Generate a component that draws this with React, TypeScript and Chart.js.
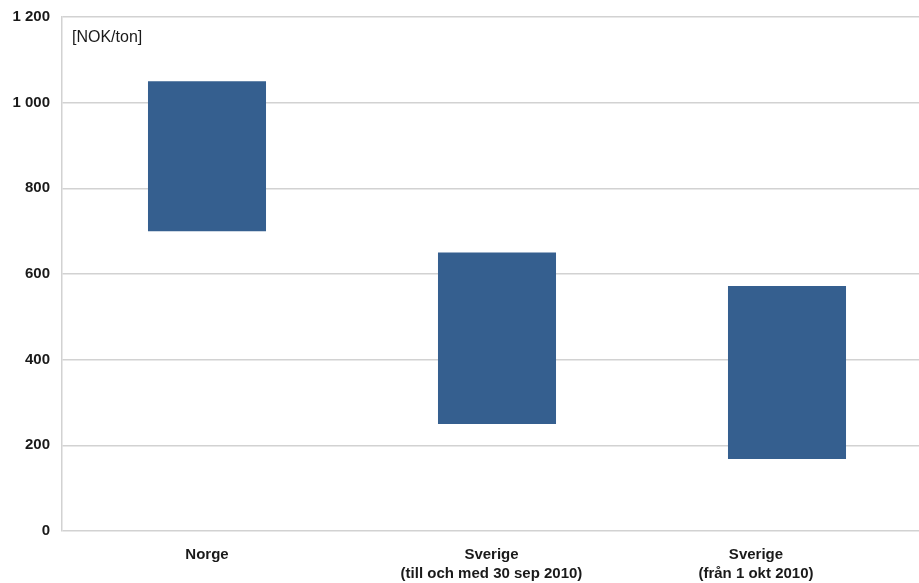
import React, { useEffect, useRef } from "react";
import { Chart, registerables } from "chart.js";

Chart.register(...registerables);

const categories: string[][] = [
  ["Norge"],
  ["Sverige", "(till och med 30 sep 2010)"],
  ["Sverige", "(från 1 okt 2010)"],
];
const lowValues = [700, 250, 168];
const highValues = [1050, 650, 572];
const yTicks = [0, 200, 400, 600, 800, 1000, 1200];
const unitLabel = "[NOK/ton]";

const FONT = "'Liberation Sans', Arial, sans-serif";

const unitPlugin = {
  id: "unitLabel",
  afterDraw(chart: any) {
    const { ctx, chartArea } = chart;
    ctx.save();
    ctx.font = `16px ${FONT}`;
    ctx.fillStyle = "#1a1a1a";
    ctx.textAlign = "left";
    ctx.textBaseline = "middle";
    ctx.fillText(unitLabel, chartArea.left + 10, chartArea.top + 21);
    ctx.restore();
  },
};

export default function App() {
  const ref = useRef<HTMLCanvasElement | null>(null);

  useEffect(() => {
    if (!ref.current) return;
    const labelPositions = [0, 0.981, 1.893];
    const chart = new Chart(ref.current, {
      type: "bar",
      data: {
        labels: categories.map((c) => c.join(" ")),
        datasets: [
          {
            data: lowValues.map((lo, i) => [lo, highValues[i]]) as any,
            backgroundColor: "#355f8f",
            borderWidth: 0,
            barPercentage: 1,
            categoryPercentage: 0.407,
          },
        ],
      },
      options: {
        animation: false,
        responsive: true,
        maintainAspectRatio: false,
        layout: { padding: { top: 17, left: 0, right: 0, bottom: 0 } },
        plugins: { legend: { display: false }, tooltip: { enabled: false } },
        scales: {
          x: { display: false, offset: true },
          x2: {
            type: "linear",
            position: "bottom",
            offset: false,
            min: -0.5,
            max: 2.5,
            grid: { display: false, drawTicks: false, offset: false },
            border: { display: false },
            afterBuildTicks: (scale: any) => {
              scale.ticks = labelPositions.map((v) => ({ value: v }));
            },
            afterFit: (scale: any) => {
              scale.height = 52;
              scale.paddingLeft = 0;
              scale.paddingRight = 0;
            },
            ticks: {
              autoSkip: false,
              maxRotation: 0,
              minRotation: 0,
              padding: 14,
              color: "#1a1a1a",
              font: { family: FONT, size: 15, weight: "bold", lineHeight: 1.3 },
              callback: (_v: any, i: number) => categories[i],
            },
          } as any,
          y: {
            min: 0,
            max: 1200,
            afterBuildTicks: (scale: any) => {
              scale.ticks = yTicks.map((v) => ({ value: v }));
            },
            afterFit: (scale: any) => {
              scale.width = 62;
              scale.paddingTop = 0;
              scale.paddingBottom = 0;
            },
            grid: { color: "#d2d2d2", lineWidth: 1.5, drawTicks: false },
            border: { display: true, color: "#d2d2d2", width: 1.5 },
            ticks: {
              padding: 12,
              color: "#1a1a1a",
              font: { family: FONT, size: 15, weight: "bold" },
              callback: (v: any) =>
                String(v).replace(/\B(?=(\d{3})+(?!\d))/g, " "),
            },
          },
        },
      },
      plugins: [unitPlugin],
    });
    return () => chart.destroy();
  }, []);

  return (
    <div
      style={{
        position: "fixed",
        left: 0,
        top: 0,
        width: 919,
        height: 583,
        overflow: "hidden",
        background: "#fff",
      }}
    >
      <div style={{ position: "relative", width: 932, height: 583 }}>
        <canvas ref={ref} />
      </div>
    </div>
  );
}
